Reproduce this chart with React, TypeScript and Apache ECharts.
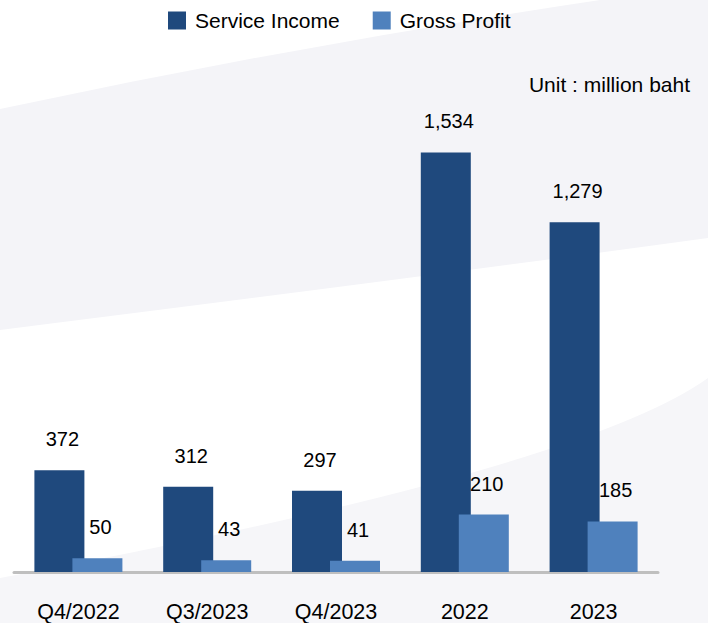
import React, { useEffect, useRef } from "react";
import * as echarts from "echarts";

const categories = ["Q4/2022", "Q3/2023", "Q4/2023", "2022", "2023"];
const serviceIncome = [372, 312, 297, 1534, 1279];
const grossProfit = [50, 43, 41, 210, 185];
const seriesNames = ["Service Income", "Gross Profit"];
const unitText = "Unit : million baht";

const FONT = "Arial, 'Liberation Sans', Helvetica, sans-serif";

echarts.graphic.registerShape(
  "bgBand",
  echarts.graphic.extendPath(
    "M0,109 Q300,45 600,0 L708,0 L708,238 Q400,280 0,330 Z",
    {}
  )
);
echarts.graphic.registerShape(
  "bgSwoosh",
  echarts.graphic.extendPath(
    "M708,378 Q580,470 0,578 L0,623 L708,623 Z",
    {}
  )
);

const fmt = (v: number) => v.toLocaleString("en-US");

export default function App() {
  const ref = useRef<HTMLDivElement>(null);
  useEffect(() => {
    if (!ref.current) return;
    const chart = echarts.init(ref.current, undefined, { renderer: "svg" });
    const labelStyle = {
      show: true,
      position: "top",
      distance: 21,
      offset: [3, 0],
      fontSize: 20,
      color: "#000",
      fontFamily: FONT,
      formatter: (p: any) => fmt(p.value),
    };
    chart.setOption({
      animation: false,
      backgroundColor: "#FFFFFF",
      textStyle: { fontFamily: FONT },
      graphic: [
        { type: "bgBand", x: 0, y: 0, z: -10, silent: true, style: { fill: "#F4F4F8" } },
        { type: "bgSwoosh", x: 0, y: 0, z: -10, silent: true, style: { fill: "#F6F6F9" } },
      ],
      title: {
        text: unitText,
        right: 18,
        top: 74,
        padding: 0,
        textStyle: { fontSize: 21, fontWeight: "normal", color: "#000", fontFamily: FONT },
      },
      legend: {
        left: 168,
        top: 10,
        padding: 0,
        itemWidth: 18,
        itemHeight: 18,
        itemGap: 33,
        icon: "rect",
        data: seriesNames,
        textStyle: { fontSize: 21, color: "#000", fontFamily: FONT, padding: [0, 0, 0, 4] },
      },
      grid: { left: 14, right: 50, top: 25, bottom: 51, containLabel: false },
      xAxis: {
        type: "category",
        data: categories,
        axisLine: { lineStyle: { color: "#BFBFBF", width: 3 } },
        axisTick: { show: false },
        axisLabel: { fontSize: 21.5, color: "#000", margin: 29, fontFamily: FONT },
      },
      yAxis: {
        type: "value",
        min: 0,
        max: 2000,
        show: false,
        splitLine: { show: false },
      },
      series: [
        {
          name: seriesNames[0],
          type: "bar",
          data: serviceIncome,
          barWidth: 50,
          barGap: "-24%",
          itemStyle: { color: "#1F497D" },
          label: labelStyle,
        },
        {
          name: seriesNames[1],
          type: "bar",
          data: grossProfit,
          barWidth: 50,
          itemStyle: { color: "#4F81BD" },
          label: labelStyle,
        },
      ],
    });
    return () => chart.dispose();
  }, []);
  return (
    <div
      ref={ref}
      style={{ position: "fixed", left: 0, top: 0, width: 708, height: 623 }}
    />
  );
}
